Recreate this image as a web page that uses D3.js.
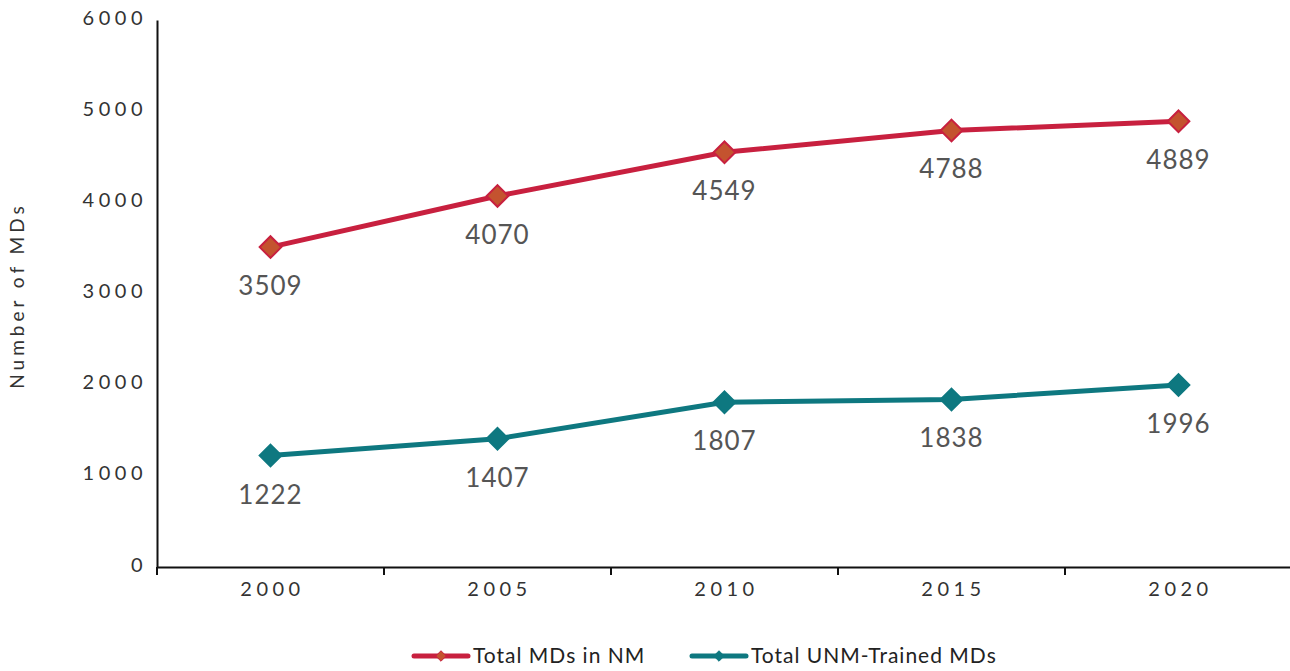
<!DOCTYPE html>
<meta charset="utf-8">
<head>
    <title>Number of MDs</title>
    <script src="https://cdn.jsdelivr.net/npm/d3@7"></script>
    <style>
        body { margin: 0; background: #fff; }
        text { font-family: Lato, 'Open Sans', sans-serif; }
        .tick text { font-size: 20px; fill: #333; letter-spacing: 4.5px; }
        .lbl { font-size: 26px; fill: #555; letter-spacing: 1px; }
        .legend text { font-size: 21px; fill: #222; letter-spacing: 1px; }
    </style>
</head>
<body>
<div id="chart"></div>
<script>
    // data
    var years = ["2000", "2005", "2010", "2015", "2020"];
    var totalNM = [3509, 4070, 4549, 4788, 4889];
    var totalUNM = [1222, 1407, 1807, 1838, 1996];
    var yTicks = [0, 1000, 2000, 3000, 4000, 5000, 6000];
    var seriesNames = ["Total MDs in NM", "Total UNM-Trained MDs"];

    var w = 1290, h = 671;
    var mLeft = 157, mRight = 1292, mTop = 20, mBottom = 567;

    var svg = d3.select("#chart").append("svg")
        .attr("width", w).attr("height", h);

    var x = d3.scaleBand().domain(years).range([mLeft, mRight]);
    var y = d3.scaleLinear().domain([0, 6000]).range([mBottom, mTop]);

    // y axis
    var yAxis = svg.append("g")
        .attr("transform", "translate(" + mLeft + ",0)")
        .call(d3.axisLeft(y).tickValues(yTicks).tickFormat(d3.format("d")).tickSize(0).tickPadding(10));
    yAxis.select(".domain").attr("stroke", "#111").attr("stroke-width", 2);
    yAxis.selectAll(".tick text").attr("dy", "0.2em");

    // x axis, ticks on band edges
    var xAxis = svg.append("g")
        .attr("transform", "translate(0," + mBottom + ")")
        .call(d3.axisBottom(x).tickSize(0).tickPadding(12));
    xAxis.select(".domain").attr("stroke", "#111").attr("stroke-width", 2);
    xAxis.selectAll(".tick text").attr("dy", "0.85em").attr("dx", "2px");
    xAxis.selectAll(".edge")
        .data(years)
        .enter().append("line")
        .attr("x1", d => x(d)).attr("x2", d => x(d))
        .attr("y1", 0).attr("y2", 8)
        .attr("stroke", "#111").attr("stroke-width", 2);

    svg.append("text")
        .attr("transform", "translate(24," + ((mTop + mBottom) / 2 + 2) + ") rotate(-90)")
        .attr("text-anchor", "middle")
        .style("font-size", "19px")
        .style("letter-spacing", "4px")
        .style("fill", "#333")
        .text("Number of MDs");

    var cx = d => x(d) + x.bandwidth() / 2;
    var line = d3.line().x(d => cx(d.year)).y(d => y(d.v));

    var series = [
        { name: seriesNames[0], values: totalNM, stroke: "#C8203F", fill: "#C4532F" },
        { name: seriesNames[1], values: totalUNM, stroke: "#0E7880", fill: "#0E7880" }
    ];

    var diamond = d3.symbol().type(d3.symbolDiamond2).size(300);

    series.forEach(function(s) {
        var pts = years.map((yr, i) => ({ year: yr, v: s.values[i] }));
        svg.append("path")
            .datum(pts)
            .attr("d", line)
            .attr("fill", "none")
            .attr("stroke", s.stroke)
            .attr("stroke-width", 5);
        svg.selectAll(null)
            .data(pts)
            .enter().append("path")
            .attr("d", diamond)
            .attr("transform", d => "translate(" + cx(d.year) + "," + y(d.v) + ")")
            .attr("fill", s.fill)
            .attr("stroke", s.stroke)
            .attr("stroke-width", 2);
        svg.selectAll(null)
            .data(pts)
            .enter().append("text")
            .attr("class", "lbl")
            .attr("x", d => cx(d.year))
            .attr("y", d => y(d.v) + 48)
            .attr("text-anchor", "middle")
            .text(d => d.v);
    });

    // legend
    var legend = svg.append("g").attr("class", "legend");
    var lx = [412, 690];
    series.forEach(function(s, i) {
        var g = legend.append("g").attr("transform", "translate(" + lx[i] + ",656)");
        g.append("line")
            .attr("x1", 2).attr("x2", 56).attr("y1", 0).attr("y2", 0)
            .attr("stroke", s.stroke).attr("stroke-width", 5)
            .attr("stroke-linecap", "round");
        g.append("path")
            .attr("d", d3.symbol().type(d3.symbolDiamond2).size(70))
            .attr("transform", "translate(29,0)")
            .attr("fill", s.fill).attr("stroke", s.stroke).attr("stroke-width", 1);
        g.append("text")
            .attr("x", 61).attr("y", 7)
            .text(s.name);
    });
</script>
</body>
</html>
